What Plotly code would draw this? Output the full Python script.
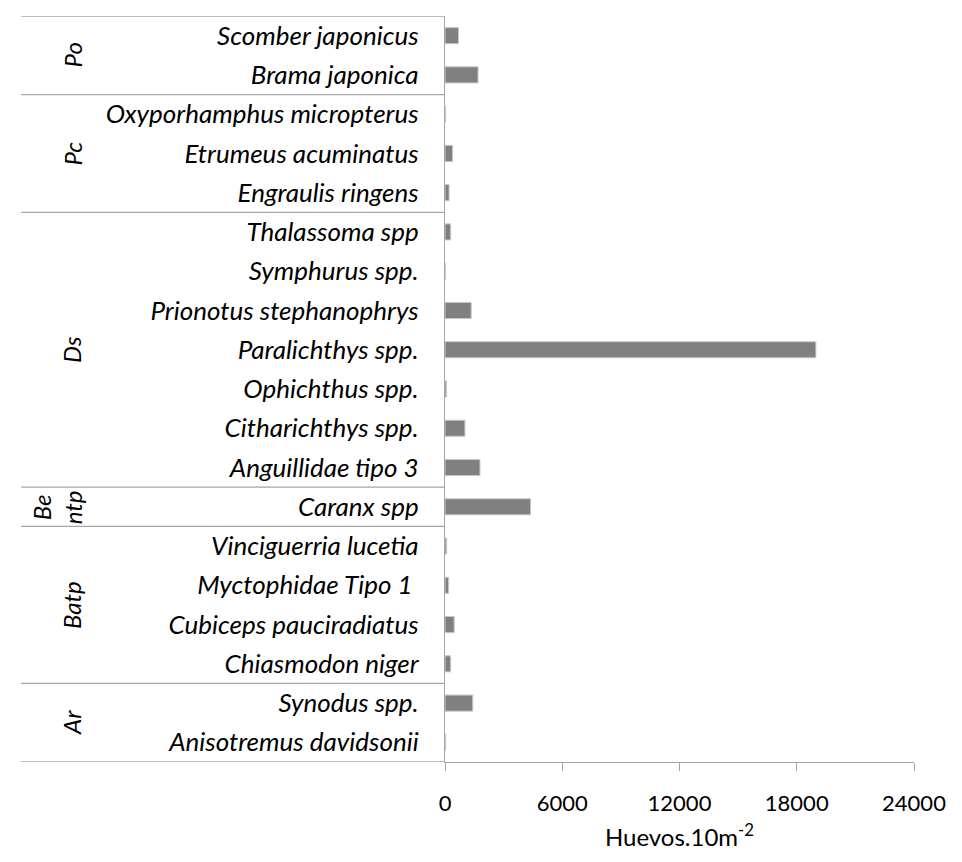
import plotly.graph_objects as go

# ---- data (top to bottom) ----
species = [
    "Scomber japonicus", "Brama japonica",
    "Oxyporhamphus micropterus", "Etrumeus acuminatus", "Engraulis ringens",
    "Thalassoma spp", "Symphurus spp.", "Prionotus stephanophrys", "Paralichthys spp.",
    "Ophichthus spp.", "Citharichthys spp.", "Anguillidae tipo 3",
    "Caranx spp",
    "Vinciguerria lucetia", "Myctophidae Tipo 1 ", "Cubiceps pauciradiatus", "Chiasmodon niger",
    "Synodus spp.", "Anisotremus davidsonii",
]
values = [
    690, 1690,
    30, 390, 210,
    290, 20, 1340, 18980, 80, 1020, 1790,
    4380,
    85, 185, 470, 290,
    1420, 30,
]
groups = ["Po", "Pc", "Ds", "Be<br>ntp", "Batp", "Ar"]
group_sizes = [2, 3, 7, 1, 4, 2]
x_ticks = [0, 6000, 12000, 18000, 24000]
x_title = "Huevos.10m<sup>-2</sup>"

FONT = "Lato"
LINE = "#a6a6a6"
# page body has an 8px margin: figure is 946x846 so the page is 962x862
W, H = 946, 846
L, R, T, B = 437, 31, 8, 76
pw = W - L - R

def px_to_paper(px):
    return (px - L) / pw

fig = go.Figure()
fig.add_trace(go.Bar(
    y=list(range(len(species))), x=values, orientation="h",
    marker=dict(color="#808080", line=dict(color="#c8c8c8", width=1)),
    hoverinfo="skip",
))

shapes = []
annotations = []
start = 0
bounds = [-0.5]
for g, n in zip(groups, group_sizes):
    center = start + (n - 1) / 2
    annotations.append(dict(
        x=px_to_paper(57 if "<br>" not in g else 41), xref="paper",
        y=center, yref="y", text=g, showarrow=False, textangle=-90,
        font=dict(family=FONT, size=24, color="#000000", style="italic"),
        xanchor="center", yanchor="middle",
    ))
    start += n
    bounds.append(start - 0.5)
for b in bounds:
    shapes.append(dict(type="line", xref="paper", yref="y",
                       x0=px_to_paper(5), x1=0, y0=b, y1=b,
                       line=dict(color=LINE, width=1.3)))

fig.update_layout(
    width=W, height=H,
    margin=dict(l=L, r=R, t=T, b=B),
    plot_bgcolor="white", paper_bgcolor="white",
    showlegend=False, bargap=0.59,
    shapes=shapes, annotations=annotations,
    font=dict(family=FONT, color="#000000"),
)
fig.update_xaxes(
    range=[0, 24000], tickvals=x_ticks, ticktext=[str(v) for v in x_ticks],
    showgrid=False, zeroline=False, showline=True, linecolor=LINE, linewidth=1.3,
    ticks="outside", ticklen=8, tickcolor=LINE, tickwidth=1.3,
    ticklabelstandoff=13, ticklabeloverflow="allow",
    tickfont=dict(family=FONT, size=22, color="#000000"),
    title=dict(text=x_title, font=dict(family=FONT, size=24, color="#000000"), standoff=14),
)
fig.update_yaxes(
    range=[len(species) - 0.5, -0.5],
    tickvals=list(range(len(species))), ticktext=species,
    showgrid=False, zeroline=False, showline=True, linecolor=LINE, linewidth=1.3,
    ticks="", ticklabelstandoff=20,
    tickfont=dict(family=FONT, size=26, color="#000000", style="italic"),
)

fig.write_html("out.html")
